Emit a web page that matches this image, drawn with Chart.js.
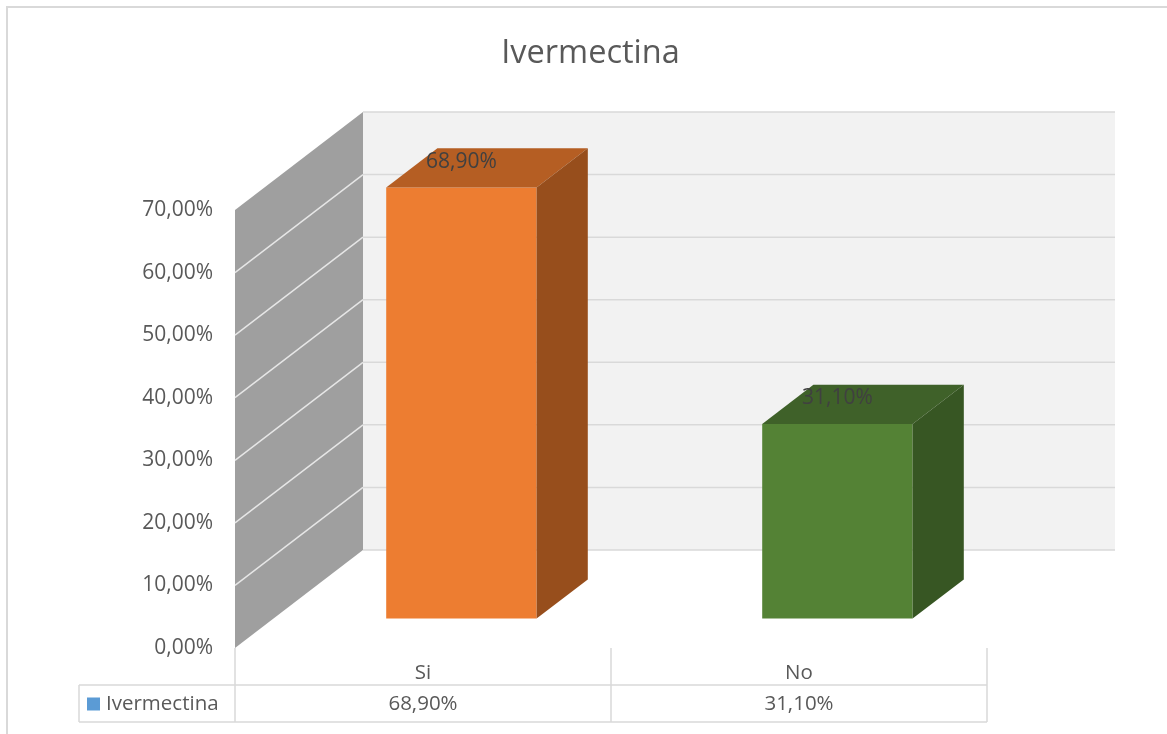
<!DOCTYPE html>
<html lang="es">
<head>
<meta charset="utf-8">
<title>Ivermectina</title>
<script src="https://cdn.jsdelivr.net/npm/chart.js@4/dist/chart.umd.min.js"></script>
<style>
    html, body { margin: 0; padding: 0; background: #ffffff; }
    #wrap { width: 1167px; height: 734px; position: relative; }
</style>
</head>
<body>
<div id="wrap"><canvas id="grafico"></canvas></div>
<script>
// Datos del gráfico
const titulo = 'Ivermectina';
const categorias = ['Si', 'No'];
const valores = [68.9, 31.1];
const yMin = 0;
const yMax = 70;
const yPaso = 10;

// Colores por barra: frente, tapa y lateral
const coloresFrente = ['#ed7d31', '#548235'];
const coloresTapa = ['#b55e23', '#3f6129'];
const coloresLado = ['#974e1c', '#375623'];

const GRIS_TEXTO = '#595959';
const GRIS_LINEA = '#d9d9d9';
const FUENTE = '"Open Sans", "Liberation Sans", sans-serif';

// Profundidad del cubo 3D (desplazamiento de la pared del fondo)
const PROF_X = 128;
const PROF_Y = -98;
const FRENTE_BARRA = 0.3;   // fracción de la profundidad donde empieza la barra
const FONDO_BARRA = 0.4;    // fracción que ocupa la barra

function formatoPct(v) {
    return v.toFixed(2).replace('.', ',') + '%';
}

/**
 * Título centrado sobre todo el lienzo
 */
const tituloCentrado = {
    id: 'tituloCentrado',
    afterDraw(chart) {
        const ctx = chart.ctx;
        ctx.save();
        ctx.font = '32.5px ' + FUENTE;
        ctx.fillStyle = GRIS_TEXTO;
        ctx.textAlign = 'center';
        ctx.textBaseline = 'alphabetic';
        ctx.fillText(titulo, chart.width / 2 + 7, 63);
        ctx.restore();
    }
};

/**
 * Paredes: lateral gris y fondo con líneas de división
 */
const paredes3d = {
    id: 'paredes3d',
    beforeDatasetsDraw(chart) {
        const ctx = chart.ctx;
        const area = chart.chartArea;
        const y = chart.scales.y;
        const yTop = y.getPixelForValue(yMax);
        const yBot = y.getPixelForValue(yMin);

        ctx.save();
        // pared del fondo
        ctx.fillStyle = '#f2f2f2';
        ctx.fillRect(area.left + PROF_X, yTop + PROF_Y, area.right - area.left, yBot - yTop);

        // pared lateral
        ctx.fillStyle = '#9f9f9f';
        ctx.beginPath();
        ctx.moveTo(area.left, yTop);
        ctx.lineTo(area.left + PROF_X, yTop + PROF_Y);
        ctx.lineTo(area.left + PROF_X, yBot + PROF_Y);
        ctx.lineTo(area.left, yBot);
        ctx.closePath();
        ctx.fill();

        // líneas de división
        ctx.lineWidth = 1.5;
        y.ticks.forEach(t => {
            const py = y.getPixelForValue(t.value);
            ctx.strokeStyle = GRIS_LINEA;
            ctx.beginPath();
            ctx.moveTo(area.left + PROF_X, py + PROF_Y);
            ctx.lineTo(area.right + PROF_X, py + PROF_Y);
            ctx.stroke();
            if (t.value > yMin && t.value < yMax) {
                ctx.strokeStyle = '#e6e6e6';
                ctx.beginPath();
                ctx.moveTo(area.left, py);
                ctx.lineTo(area.left + PROF_X, py + PROF_Y);
                ctx.stroke();
            }
        });
        ctx.restore();

        // las barras se dibujan en el plano de la barra, no en el frontal
        ctx.save();
        ctx.translate(PROF_X * FRENTE_BARRA, PROF_Y * FRENTE_BARRA);
    },
    afterDatasetsDraw(chart) {
        const ctx = chart.ctx;
        const dx = PROF_X * FONDO_BARRA;
        const dy = PROF_Y * FONDO_BARRA;
        const meta = chart.getDatasetMeta(0);

        meta.data.forEach((bar, i) => {
            const p = bar.getProps(['x', 'y', 'base', 'width'], true);
            const x1 = p.x - p.width / 2;
            const x2 = p.x + p.width / 2;

            // tapa
            ctx.fillStyle = coloresTapa[i];
            ctx.beginPath();
            ctx.moveTo(x1, p.y);
            ctx.lineTo(x2, p.y);
            ctx.lineTo(x2 + dx, p.y + dy);
            ctx.lineTo(x1 + dx, p.y + dy);
            ctx.closePath();
            ctx.fill();

            // lateral
            ctx.fillStyle = coloresLado[i];
            ctx.beginPath();
            ctx.moveTo(x2, p.y);
            ctx.lineTo(x2 + dx, p.y + dy);
            ctx.lineTo(x2 + dx, p.base + dy);
            ctx.lineTo(x2, p.base);
            ctx.closePath();
            ctx.fill();

            // etiqueta de valor sobre la tapa
            ctx.fillStyle = '#404040';
            ctx.font = '21px ' + FUENTE;
            ctx.textAlign = 'center';
            ctx.textBaseline = 'middle';
            ctx.fillText(formatoPct(valores[i]), p.x, p.y + dy / 2 - 6);
        });
        ctx.restore();
    }
};

/**
 * Tabla de datos bajo el eje X y borde del gráfico
 */
const tablaDatos = {
    id: 'tablaDatos',
    afterDraw(chart) {
        const ctx = chart.ctx;
        const area = chart.chartArea;
        const x = chart.scales.x;
        const filaTop = area.bottom + 37;
        const filaBot = area.bottom + 74;
        const leyendaX = 79;
        const paso = x.getPixelForValue(1) - x.getPixelForValue(0);

        ctx.save();
        ctx.strokeStyle = GRIS_LINEA;
        ctx.lineWidth = 1.5;

        // verticales de la tabla
        const cortes = [area.left];
        categorias.forEach((c, i) => {
            cortes.push(x.getPixelForValue(i) + paso / 2);
        });
        ctx.beginPath();
        cortes.forEach(cx => {
            ctx.moveTo(cx, area.bottom);
            ctx.lineTo(cx, filaBot);
        });
        ctx.moveTo(leyendaX, filaTop);
        ctx.lineTo(leyendaX, filaBot);
        ctx.moveTo(leyendaX, filaTop);
        ctx.lineTo(area.right, filaTop);
        ctx.moveTo(leyendaX, filaBot);
        ctx.lineTo(area.right, filaBot);
        ctx.stroke();

        // fila de valores
        ctx.font = '20.5px ' + FUENTE;
        ctx.fillStyle = GRIS_TEXTO;
        ctx.textBaseline = 'middle';
        ctx.textAlign = 'center';
        const filaY = (filaTop + filaBot) / 2 + 1;
        valores.forEach((v, i) => {
            ctx.fillText(formatoPct(v), x.getPixelForValue(i), filaY);
        });

        // clave de la serie
        ctx.fillStyle = '#5b9bd5';
        ctx.fillRect(87, filaY - 7, 13, 13);
        ctx.fillStyle = GRIS_TEXTO;
        ctx.textAlign = 'left';
        ctx.fillText(titulo, 106, filaY);

        // borde exterior
        ctx.strokeStyle = GRIS_LINEA;
        ctx.lineWidth = 2;
        ctx.strokeRect(7, 7, 1200, 800);
        ctx.restore();
    }
};

const ctx = document.getElementById('grafico');

new Chart(ctx, {
    type: 'bar',
    data: {
        labels: categorias,
        datasets: [{
            label: titulo,
            data: valores,
            backgroundColor: coloresFrente,
            borderWidth: 0,
            barPercentage: 0.4,
            categoryPercentage: 1,
            clip: false
        }]
    },
    options: {
        responsive: true,
        maintainAspectRatio: false,
        animation: false,
        layout: {
            padding: { left: 0, right: 180, top: 210, bottom: 0 }
        },
        plugins: {
            legend: { display: false },
            tooltip: { enabled: false },
            title: { display: false }
        },
        scales: {
            x: {
                grid: { display: false, drawTicks: false },
                border: { display: false },
                ticks: {
                    color: GRIS_TEXTO,
                    font: { family: FUENTE, size: 20.5 },
                    padding: 13
                },
                afterFit(scale) {
                    scale.height = 86;
                }
            },
            y: {
                min: yMin,
                max: yMax,
                grid: { display: false, drawTicks: false },
                border: { display: false },
                ticks: {
                    stepSize: yPaso,
                    color: GRIS_TEXTO,
                    font: { family: FUENTE, size: 21 },
                    padding: 22,
                    callback: v => formatoPct(v)
                },
                afterFit(scale) {
                    scale.width = 235;
                }
            }
        }
    },
    plugins: [paredes3d, tablaDatos, tituloCentrado]
});
</script>
</body>
</html>
